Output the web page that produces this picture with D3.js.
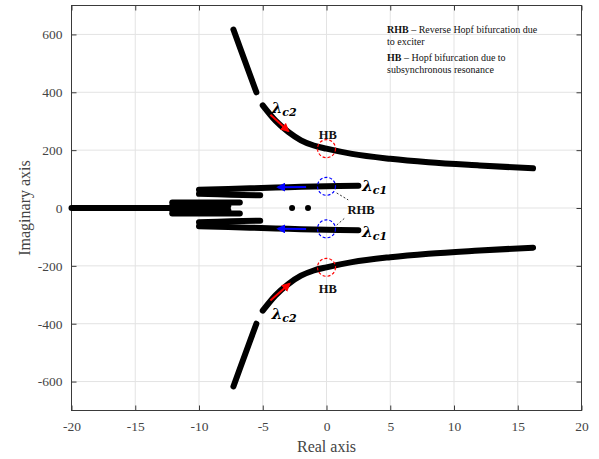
<!DOCTYPE html>
<html>
<head>
<meta charset="utf-8">
<script src="https://cdn.jsdelivr.net/npm/d3@7"></script>
<style>
    body { margin: 0; background: #fff; }
    svg text { font-family: "Liberation Serif", "Times New Roman", serif; }
</style>
</head>
<body>
<svg id="chart" width="599" height="459"></svg>
<script>
// eigenvalue loci (real, imaginary)
const c2UpperFar = [[-7.3, 617], [-6.4, 508], [-5.5, 400]]
const c2UpperNear = [[-5.0, 355], [-4, 302], [-3, 263], [-2, 234], [-1, 216], [0, 205], [2, 187], [5, 170], [8, 158], [12, 147], [16.2, 137]]
const c1Long = [[2.5, 77], [0, 75], [-3, 72], [-6, 68], [-10, 63]]
const c1Short = [[-10, 49], [-7.5, 46], [-5.2, 44]]
const realBranch = [[-20, 0], [-12.2, 0]]
const clusterBars = [
    [[-12.1, 19], [-6.8, 19]],
    [[-12.1, 8], [-7.7, 8]],
    [[-12.1, -8], [-7.7, -8]],
    [[-12.1, -19], [-6.8, -19]],
]
const realDots = [[-2.7, 0], [-1.45, 0]]

const redArrows = [[[-4.4, 322], [-3.0, 266]], [[-4.4, -320], [-2.9, -262]]]
const blueArrows = [[[-1.6, 73], [-3.8, 72]], [[-1.6, -73], [-3.8, -72]]]
const hbPoints = [[0, 205], [0, -205]]
const rhbPoints = [[0, 75], [0, -72]]
const leaders = [[[0.8, 52], [1.7, 28]], [[0.8, -59], [1.45, -34]]]

const xTicks = [-20, -15, -10, -5, 0, 5, 10, 15, 20]
const yTicks = [-600, -400, -200, 0, 200, 400, 600]

const legendLines = [
    {bold: "RHB", rest: " – Reverse Hopf bifurcation due"},
    {bold: "", rest: "to exciter"},
    {bold: "HB", rest: " – Hopf bifurcation due to"},
    {bold: "", rest: "subsynchronous resonance"},
]

const margin = {left: 71.5, right: 581.5, top: 5.5, bottom: 410.5}

const svg = d3.select("#chart")

const x = d3.scaleLinear().domain([-20, 20]).range([margin.left, margin.right])
const y = d3.scaleLinear().domain([-700, 700]).range([margin.bottom, margin.top])

// grid
svg.append("g")
    .selectAll("line.gx")
    .data(xTicks.slice(1, -1))
    .join("line")
    .attr("x1", d => x(d)).attr("x2", d => x(d))
    .attr("y1", margin.top).attr("y2", margin.bottom)
    .attr("stroke", "#e3e3e3").attr("stroke-width", 1)
svg.append("g")
    .selectAll("line.gy")
    .data(yTicks)
    .join("line")
    .attr("x1", margin.left).attr("x2", margin.right)
    .attr("y1", d => y(d)).attr("y2", d => y(d))
    .attr("stroke", "#e3e3e3").attr("stroke-width", 1)

// axes, MATLAB style (inward ticks on all four sides)
const axisColor = "#3a3a3a"
function styleAxis(g) {
    g.select(".domain").remove()
    g.selectAll(".tick line").attr("stroke", axisColor)
    g.selectAll(".tick text")
        .attr("fill", "#444")
        .style("font-size", "13.5px")
        .style("font-family", "Liberation Serif")
}
const fmt = d => d < 0 ? "-" + Math.abs(d) : String(d)

svg.append("g").attr("transform", `translate(0,${margin.bottom})`)
    .call(d3.axisBottom(x).tickValues(xTicks).tickFormat(fmt).tickSizeInner(-5).tickPadding(11))
    .call(styleAxis)
svg.append("g").attr("transform", `translate(0,${margin.top})`)
    .call(d3.axisTop(x).tickValues(xTicks).tickFormat("").tickSizeInner(-5))
    .call(styleAxis)
svg.append("g").attr("transform", `translate(${margin.left},0)`)
    .call(d3.axisLeft(y).tickValues(yTicks).tickFormat(fmt).tickSizeInner(-5).tickPadding(9))
    .call(styleAxis)
svg.append("g").attr("transform", `translate(${margin.right},0)`)
    .call(d3.axisRight(y).tickValues(yTicks).tickFormat("").tickSizeInner(-5))
    .call(styleAxis)

svg.append("rect")
    .attr("x", margin.left).attr("y", margin.top)
    .attr("width", margin.right - margin.left).attr("height", margin.bottom - margin.top)
    .attr("fill", "none").attr("stroke", axisColor).attr("stroke-width", 1)

// loci
const line = d3.line().x(d => x(d[0])).y(d => y(d[1])).curve(d3.curveMonotoneX)
const mirror = pts => pts.map(p => [p[0], -p[1]])

const loci = [
    c2UpperFar, mirror(c2UpperFar),
    c1Long, mirror(c1Long),
    c1Short, mirror(c1Short),
    realBranch,
    ...clusterBars,
]
svg.append("g")
    .selectAll("path")
    .data(loci)
    .join("path")
    .attr("d", d => d3.line().x(p => x(p[0])).y(p => y(p[1])).curve(d3.curveCatmullRom)(d))
    .attr("fill", "none").attr("stroke", "#000")
    .attr("stroke-width", 6).attr("stroke-linecap", "round")

// the long c2 branches are monotone in x
svg.append("g")
    .selectAll("path")
    .data([c2UpperNear, mirror(c2UpperNear)])
    .join("path")
    .attr("d", line)
    .attr("fill", "none").attr("stroke", "#000")
    .attr("stroke-width", 6).attr("stroke-linecap", "round")

svg.append("g")
    .selectAll("circle")
    .data(realDots)
    .join("circle")
    .attr("cx", d => x(d[0])).attr("cy", d => y(d[1]))
    .attr("r", 3).attr("fill", "#000")

// arrows
const defs = svg.append("defs")
function arrowHead(id, color) {
    defs.append("marker")
        .attr("id", id)
        .attr("viewBox", "0 0 10 10")
        .attr("refX", 8).attr("refY", 5)
        .attr("markerWidth", 4.5).attr("markerHeight", 4.5)
        .attr("orient", "auto")
        .append("path")
        .attr("d", "M0,0 L10,5 L0,10 Z")
        .attr("fill", color)
}
arrowHead("headRed", "#ff0000")
arrowHead("headBlue", "#0000ff")

function drawArrows(data, color, head) {
    svg.append("g")
        .selectAll("line")
        .data(data)
        .join("line")
        .attr("x1", d => x(d[0][0])).attr("y1", d => y(d[0][1]))
        .attr("x2", d => x(d[1][0])).attr("y2", d => y(d[1][1]))
        .attr("stroke", color).attr("stroke-width", 2)
        .attr("marker-end", `url(#${head})`)
}
drawArrows(redArrows, "#ff0000", "headRed")
drawArrows(blueArrows, "#0000ff", "headBlue")

// bifurcation circles
function drawRings(data, color) {
    svg.append("g")
        .selectAll("circle")
        .data(data)
        .join("circle")
        .attr("cx", d => x(d[0])).attr("cy", d => y(d[1]))
        .attr("r", 9)
        .attr("fill", "none").attr("stroke", color)
        .attr("stroke-width", 1.2).attr("stroke-dasharray", "3,2")
}
drawRings(hbPoints, "#ff0000")
drawRings(rhbPoints, "#0000ff")

svg.append("g")
    .selectAll("line")
    .data(leaders)
    .join("line")
    .attr("x1", d => x(d[0][0])).attr("y1", d => y(d[0][1]))
    .attr("x2", d => x(d[1][0])).attr("y2", d => y(d[1][1]))
    .attr("stroke", "#333").attr("stroke-width", 1).attr("stroke-dasharray", "2,2")

// annotations
function lambda(px, py, sub) {
    const t = svg.append("text")
        .attr("x", x(px)).attr("y", y(py))
        .style("font-style", "italic").style("font-weight", "bold")
        .style("font-family", "DejaVu Serif")
        .attr("fill", "#000")
    t.append("tspan").style("font-size", "15px").text("λ")
    t.append("tspan").style("font-size", "11px").attr("dy", 3).text(sub)
}
lambda(-4.3, 328, "c2")
lambda(-4.3, -382, "c2")
lambda(2.8, 58, "c1")
lambda(2.8, -101, "c1")

const boldLabel = (px, py, txt) => svg.append("text")
    .attr("x", x(px)).attr("y", y(py))
    .attr("text-anchor", "middle")
    .style("font-weight", "bold").style("font-size", "12.5px")
    .attr("fill", "#111")
    .text(txt)
boldLabel(0.1, 240, "HB")
boldLabel(0.1, -293, "HB")
boldLabel(2.7, -21, "RHB")

// legend text
const leg = svg.append("g")
leg.selectAll("text")
    .data(legendLines)
    .join("text")
    .attr("x", 387)
    .attr("y", (d, i) => [33, 45, 61, 73][i])
    .style("font-size", "10px")
    .attr("fill", "#111")
    .each(function (d) {
        const t = d3.select(this)
        if (d.bold) t.append("tspan").style("font-weight", "bold").text(d.bold)
        t.append("tspan").text(d.rest)
    })

// axis titles
svg.append("text")
    .attr("x", (margin.left + margin.right) / 2).attr("y", 452)
    .attr("text-anchor", "middle")
    .style("font-size", "16px").attr("fill", "#444")
    .text("Real axis")
svg.append("text")
    .attr("transform", `translate(30,${(margin.top + margin.bottom) / 2}) rotate(-90)`)
    .attr("text-anchor", "middle")
    .style("font-size", "16px").attr("fill", "#444")
    .text("Imaginary axis")
</script>
</body>
</html>
